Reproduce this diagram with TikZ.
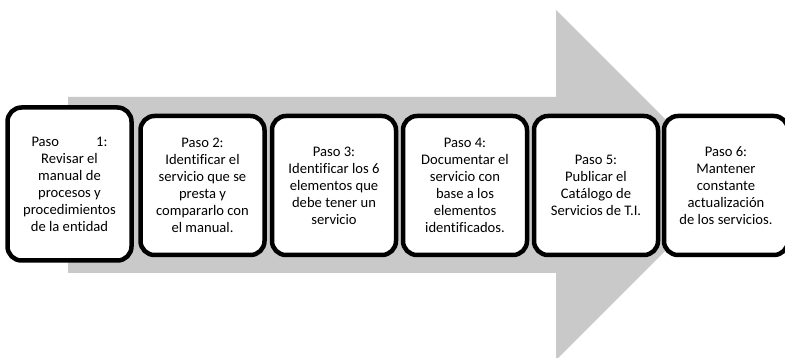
\documentclass[tikz,border=0pt]{standalone}
\usepackage{fontspec}
\setmainfont{Carlito}[Ligatures=CommonOff]
\begin{document}
\begin{tikzpicture}[x=1pt,y=-1pt,
  stepbox/.style={draw=black, line width=4.5pt, rounded corners=14pt, fill=white,
    minimum width=124pt, minimum height=139pt, inner sep=0pt,
    align=center, font=\fontsize{14.6pt}{17pt}\selectfont},
  arrowfill/.style={fill=black!21, draw=none}]
\useasboundingbox (0,0) rectangle (785,358);
\clip (0,0) rectangle (785,358);
\fill[arrowfill] (68,97) -- (556,97) -- (556,10) -- (731,185) -- (556,360) -- (556,273) -- (68,273) -- cycle;
\node[stepbox, minimum height=153pt] (s1) at (69.5,184) {\makebox[76pt][s]{Paso\hfill 1:}\\Revisar el\\manual de\\procesos y\\procedimientos\\de la entidad};
\node[stepbox] (s2) at (202.5,185.5) {Paso 2:\\Identificar el\\servicio que se\\presta y\\compararlo con\\el manual.};
\node[stepbox] (s3) at (334,185.5) {Paso 3:\\Identificar los 6\\elementos que\\debe tener un\\servicio};
\node[stepbox] (s4) at (465,185.5) {Paso 4:\\Documentar el\\servicio con\\base a los\\elementos\\identificados.};
\node[stepbox] (s5) at (596,185.5) {Paso 5:\\Publicar el\\Catálogo de\\Servicios de T.I.};
\node[stepbox] (s6) at (726,185.5) {Paso 6:\\Mantener\\constante\\actualización\\de los servicios.};
\end{tikzpicture}
\end{document}
